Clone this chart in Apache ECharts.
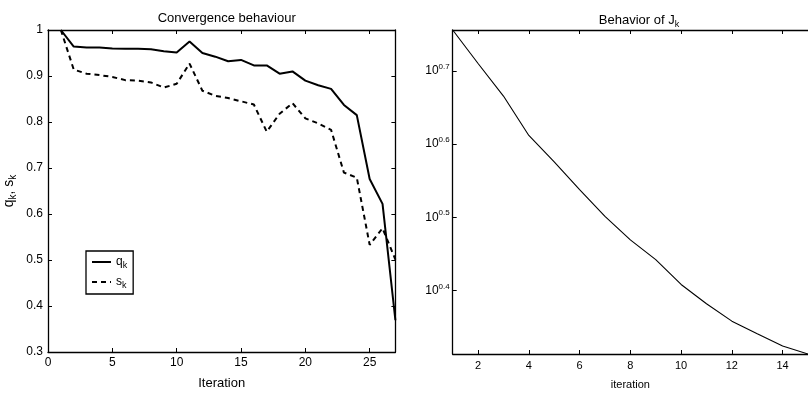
<!DOCTYPE html>
<html>
<head>
<meta charset="utf-8">
<script src="https://cdn.jsdelivr.net/npm/echarts@6/dist/echarts.min.js"></script>
<style>
  html, body { margin: 0; background: #fff; }
  #chart { width: 808px; height: 395px; }
</style>
</head>
<body>
<div id="chart"></div>
<script>
// left panel: convergence of q_k and s_k over 27 iterations
const iterations = [1, 2, 3, 4, 5, 6, 7, 8, 9, 10, 11, 12, 13, 14, 15, 16, 17, 18, 19, 20, 21, 22, 23, 24, 25, 26, 27]
const qValues = [1.0, 0.964, 0.962, 0.962, 0.960, 0.959, 0.959, 0.958, 0.954, 0.951, 0.975, 0.950, 0.942, 0.932, 0.935, 0.923, 0.923, 0.905, 0.910, 0.890, 0.880, 0.872, 0.837, 0.815, 0.676, 0.622, 0.369]
const sValues = [1.0, 0.914, 0.905, 0.902, 0.898, 0.891, 0.890, 0.886, 0.875, 0.883, 0.927, 0.868, 0.857, 0.852, 0.845, 0.838, 0.779, 0.818, 0.841, 0.808, 0.797, 0.783, 0.690, 0.679, 0.533, 0.569, 0.501]

// right panel: J_k on a log axis
const jIterations = [1, 2, 3, 4, 5, 6, 7, 8, 9, 10, 11, 12, 13, 14, 15]
const jValues = [5.70, 5.13, 4.63, 4.09, 3.765, 3.45, 3.17, 2.944, 2.767, 2.559, 2.408, 2.280, 2.192, 2.109, 2.056]

const leftYTicks = [0.3, 0.4, 0.5, 0.6, 0.7, 0.8, 0.9, 1]

// no narrow Helvetica here, so plain Liberation Sans a size down
const FONT = '"Liberation Sans", Arial, sans-serif'
const INK = '#000'

const frameLine = { show: true, onZero: false, lineStyle: { color: INK, width: 1.3 } }
const innerTick = { show: true, inside: true, length: 4, lineStyle: { color: INK, width: 1 } }

const pairs = (xs, ys) => xs.map((x, i) => [x, ys[i]])

const chart = echarts.init(document.getElementById('chart'), null, { renderer: 'canvas' })

chart.setOption({
  animation: false,
  backgroundColor: '#fff',
  textStyle: { fontFamily: FONT, color: INK },
  title: [
    {
      text: 'Convergence behaviour',
      left: 221.7, top: 7, textAlign: 'center',
      textStyle: { fontFamily: FONT, fontSize: 13, fontWeight: 'normal', color: INK },
    },
    {
      text: '{m|Behavior of J}{k|k}',
      left: 634, top: 7, textAlign: 'center',
      textStyle: {
        fontFamily: FONT, fontSize: 13, fontWeight: 'normal', color: INK,
        rich: {
          m: { fontFamily: FONT, fontSize: 13, color: INK },
          k: { fontFamily: FONT, fontSize: 9, color: INK, padding: [8, 0, 0, 0] },
        },
      },
    },
  ],
  legend: {
    data: ['q_k', 's_k'],
    orient: 'vertical',
    left: 86, top: 251,
    itemWidth: 19, itemHeight: 12, itemGap: 6,
    padding: [5, 6, 4, 5],
    borderColor: INK, borderWidth: 1.3,
    itemStyle: { opacity: 0 },
    formatter: name => name === 'q_k' ? '{m|q}{k|k}' : '{m|s}{k|k}',
    textStyle: {
      fontFamily: FONT, color: INK,
      rich: {
        m: { fontFamily: FONT, fontSize: 12, color: INK },
        k: { fontFamily: FONT, fontSize: 9, color: INK, padding: [7, 0, 0, 0] },
      },
    },
  },
  grid: [
    { left: 48, top: 30, width: 347.4, height: 327.3 },
    { left: 452.7, top: 30, width: 364, height: 326.7 },
  ],
  xAxis: [
    {
      gridIndex: 0, type: 'value', position: 'bottom', min: 0, max: 27, interval: 5,
      axisLine: frameLine, axisTick: innerTick, splitLine: { show: false },
      axisLabel: { fontFamily: FONT, fontSize: 12, color: INK, margin: 5, showMaxLabel: false },
      name: 'Iteration', nameLocation: 'middle', nameGap: 25,
      nameTextStyle: { fontFamily: FONT, fontSize: 13, color: INK },
    },
    {
      gridIndex: 0, type: 'value', position: 'top', min: 0, max: 27, interval: 5,
      axisLine: frameLine, axisTick: innerTick, splitLine: { show: false },
      axisLabel: { show: false },
    },
    {
      gridIndex: 1, type: 'value', position: 'bottom', min: 1, max: 15, splitNumber: 7,
      axisLine: frameLine, axisTick: innerTick, splitLine: { show: false },
      axisLabel: { fontFamily: FONT, fontSize: 11, color: INK, margin: 6, showMinLabel: false, showMaxLabel: false },
      name: 'iteration', nameLocation: 'middle', nameGap: 25,
      nameTextStyle: { fontFamily: FONT, fontSize: 11, color: INK },
    },
    {
      gridIndex: 1, type: 'value', position: 'top', min: 1, max: 15, splitNumber: 7,
      axisLine: frameLine, axisTick: innerTick, splitLine: { show: false },
      axisLabel: { show: false },
    },
  ],
  yAxis: [
    {
      gridIndex: 0, type: 'value', position: 'left',
      min: leftYTicks[0], max: leftYTicks[leftYTicks.length - 1], interval: 0.1,
      axisLine: frameLine, axisTick: innerTick, splitLine: { show: false },
      axisLabel: {
        fontFamily: FONT, fontSize: 12, color: INK, margin: 5,
        formatter: v => String(+v.toFixed(1)),
      },
      name: '{m|q}{k|k}{m|, s}{k|k}', nameLocation: 'middle', nameGap: 30, nameRotate: 90,
      nameTextStyle: {
        fontFamily: FONT, color: INK,
        rich: {
          m: { fontFamily: FONT, fontSize: 14, color: INK },
          k: { fontFamily: FONT, fontSize: 10, color: INK, padding: [8, 0, 0, 0] },
        },
      },
    },
    {
      gridIndex: 0, type: 'value', position: 'right',
      min: leftYTicks[0], max: leftYTicks[leftYTicks.length - 1], interval: 0.1,
      axisLine: frameLine, axisTick: innerTick, splitLine: { show: false },
      axisLabel: { show: false },
    },
    {
      gridIndex: 1, type: 'log', logBase: Math.pow(10, 0.1), position: 'left',
      min: Math.min(...jValues), max: Math.max(...jValues), splitNumber: 5,
      axisLine: frameLine, axisTick: innerTick, splitLine: { show: false }, minorTick: { show: false },
      axisLabel: {
        fontFamily: FONT, color: INK, margin: 3, showMinLabel: false, showMaxLabel: false,
        formatter: v => '{b|10}{s|' + (Math.round(Math.log10(v) * 10) / 10).toFixed(1) + '}',
        rich: {
          b: { fontFamily: FONT, fontSize: 12, color: INK },
          s: { fontFamily: FONT, fontSize: 8, color: INK, padding: [0, 0, 8, 0] },
        },
      },
    },
  ],
  series: [
    {
      name: 'q_k', type: 'line', xAxisIndex: 0, yAxisIndex: 0,
      data: pairs(iterations, qValues),
      symbol: 'none', lineStyle: { color: INK, width: 2 }, itemStyle: { color: INK },
    },
    {
      name: 's_k', type: 'line', xAxisIndex: 0, yAxisIndex: 0,
      data: pairs(iterations, sValues),
      symbol: 'none', lineStyle: { color: INK, width: 2, type: [5, 4] }, itemStyle: { color: INK },
    },
    {
      name: 'J_k', type: 'line', xAxisIndex: 2, yAxisIndex: 2,
      data: pairs(jIterations, jValues),
      symbol: 'none', lineStyle: { color: INK, width: 1.1 }, itemStyle: { color: INK },
    },
  ],
})
</script>
</body>
</html>
